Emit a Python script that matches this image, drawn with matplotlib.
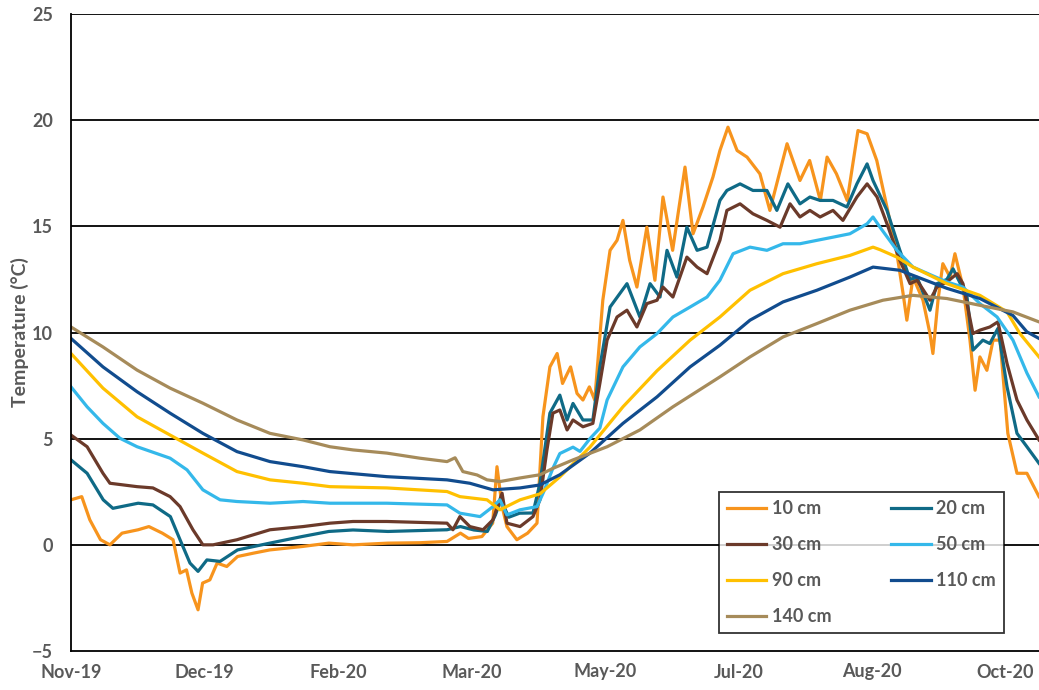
import numpy as np
import pandas as pd
import matplotlib
matplotlib.use("Agg")
import matplotlib.pyplot as plt

plt.rcParams['font.family'] = ['Lato', 'DejaVu Sans']

start = pd.Timestamp("2019-11-01")

# (day offset from 1 Nov 2019, temperature °C)
d10 = [0, 4, 7, 11, 14.5, 19, 25, 29, 34, 38, 40.6, 43, 45, 47.3, 49, 51.7, 54.4, 58, 62, 68, 74, 86, 96, 105, 118, 130, 140, 145, 148, 153, 157, 158.6, 160.5, 162.3, 166, 170, 173.5, 175.7, 178.3, 181, 183, 186, 188.4, 190.6, 193, 195, 198, 200.7, 203.3, 205.5, 208, 210.7, 214.4, 217.4, 220.4, 224, 228.6, 231.6, 235.3, 239, 241.6, 244.6, 248, 251.7, 256.5, 260.2, 266.6, 271.4, 275, 279, 281.5, 285, 289, 293, 296.4, 300, 303.8, 307.5, 309.8, 311.2, 313.5, 317.2, 319.8, 320.9, 322.8, 324.6, 327.3, 329.1, 332.1, 334.7, 336.6, 338.4, 341, 343.3, 345.9, 348.8, 352.2, 355.9, 360.4]
t10 = [2.12, 2.27, 1.18, 0.24, 0.0, 0.55, 0.71, 0.86, 0.55, 0.24, -1.33, -1.18, -2.27, -3.06, -1.8, -1.65, -0.86, -1.02, -0.55, -0.39, -0.24, -0.08, 0.08, 0.0, 0.08, 0.1, 0.16, 0.55, 0.3, 0.39, 1.02, 3.68, 1.8, 0.86, 0.24, 0.55, 1.02, 6.03, 8.38, 9.01, 7.6, 8.38, 7.13, 6.82, 7.44, 6.82, 11.52, 13.87, 14.34, 15.28, 13.4, 12.14, 14.96, 12.46, 16.38, 13.87, 17.79, 14.65, 15.91, 17.32, 18.57, 19.67, 18.57, 18.26, 17.47, 15.75, 18.89, 17.16, 18.1, 16.22, 18.26, 17.47, 16.22, 19.51, 19.36, 18.1, 15.9, 13.71, 11.83, 10.58, 12.61, 11.52, 9.95, 9.01, 11.52, 13.24, 12.61, 13.71, 12.14, 9.64, 7.28, 8.85, 8.22, 9.64, 9.64, 5.25, 3.37, 3.37, 2.27]

d20 = [0, 6, 12, 15.6, 25, 30.5, 37, 40.6, 44.3, 47.3, 50.6, 55.5, 62, 74, 86, 96, 105, 118, 140, 145, 150, 155, 158, 160, 163, 167, 172, 174.6, 178.3, 182, 184.7, 186.9, 190.6, 194.3, 196.9, 200.7, 207, 211.8, 215.6, 219.3, 221.9, 225.6, 229.3, 233.1, 236.8, 241.6, 244.2, 249.1, 253.9, 259.1, 262.8, 266.9, 271.4, 275.1, 278.9, 283.7, 288.9, 292.6, 296.4, 298.6, 303.8, 308.6, 312.4, 315, 319.8, 322.4, 326.1, 328.4, 333.6, 335.8, 339.5, 342.1, 345.1, 348.5, 352.2, 355.9, 360.4]
t20 = [4.0, 3.37, 2.12, 1.72, 1.96, 1.88, 1.33, 0.24, -0.86, -1.25, -0.71, -0.78, -0.24, 0.08, 0.39, 0.63, 0.7, 0.63, 0.71, 0.86, 0.7, 0.63, 1.4, 2.12, 1.3, 1.49, 1.5, 2.9, 6.2, 7.05, 5.88, 6.66, 5.88, 5.88, 8.38, 11.2, 12.3, 10.73, 12.3, 11.67, 13.87, 12.61, 14.96, 13.87, 14.02, 16.22, 16.69, 17.0, 16.69, 16.69, 15.75, 17.0, 16.06, 16.38, 16.22, 16.22, 15.91, 17.0, 17.94, 17.16, 15.75, 13.87, 12.5, 12.6, 11.05, 12.3, 12.5, 13.0, 11.67, 9.17, 9.64, 9.48, 10.19, 7.44, 5.25, 4.62, 3.84]

d30 = [0, 6, 11.9, 14.5, 24.6, 30.5, 36.9, 40.6, 45.4, 49.1, 52.9, 61.8, 74.1, 86.4, 96.4, 105, 117.6, 140, 142.2, 144.8, 148.5, 153.4, 157.1, 160.5, 162.3, 167.2, 172, 174.6, 177.2, 179.4, 182, 184.7, 186.9, 190.6, 194.3, 196.9, 199.6, 203.3, 207, 210.7, 214.4, 218.2, 220.4, 224.1, 229.3, 233.1, 236.8, 241.6, 244.2, 249.1, 253.9, 259.1, 264, 267.7, 271.4, 275.1, 278.9, 283.7, 287.4, 292.6, 296.4, 300.1, 303.8, 308.6, 312.4, 315, 319.8, 322.4, 326.1, 329.9, 332.1, 335.8, 338.4, 342.1, 345.1, 348.5, 352.2, 355.9, 360.4]
t30 = [5.17, 4.62, 3.37, 2.9, 2.74, 2.68, 2.27, 1.8, 0.71, 0.0, 0.0, 0.24, 0.71, 0.86, 1.02, 1.1, 1.1, 1.02, 0.71, 1.33, 0.86, 0.71, 1.18, 2.43, 1.02, 0.86, 1.33, 2.12, 4.47, 6.2, 6.35, 5.41, 5.88, 5.56, 5.72, 7.6, 9.64, 10.73, 11.05, 10.26, 11.36, 11.52, 12.14, 11.67, 13.55, 13.08, 12.77, 14.34, 15.75, 16.06, 15.59, 15.28, 14.96, 16.06, 15.44, 15.75, 15.44, 15.75, 15.28, 16.38, 17.0, 16.38, 15.12, 13.4, 12.3, 12.46, 11.52, 12.14, 12.38, 12.77, 12.3, 9.95, 10.11, 10.26, 10.5, 8.54, 6.82, 5.88, 4.94]

d50 = [0, 6, 11.9, 18.2, 24.6, 36.9, 43.2, 49.1, 55.5, 61.8, 74.1, 86.4, 96.4, 117.6, 140, 144.8, 152.3, 157.1, 159.7, 162.3, 167.2, 173.5, 176, 179.4, 182, 186.9, 189.5, 193.2, 196.9, 199.6, 205.5, 211.8, 218.2, 224.1, 230.5, 236.8, 241.6, 246.5, 252.8, 259.1, 265.1, 271.4, 277.7, 283.7, 290, 296.4, 298.6, 301.2, 307.5, 313.5, 326.1, 332.1, 338.4, 344.8, 350.7, 355.9, 360.4]
t50 = [7.44, 6.5, 5.72, 5.02, 4.62, 4.08, 3.53, 2.59, 2.12, 2.04, 1.96, 2.04, 1.96, 1.96, 1.88, 1.49, 1.33, 1.8, 2.12, 1.41, 1.65, 1.8, 2.5, 3.6, 4.3, 4.6, 4.4, 5.0, 5.5, 6.82, 8.38, 9.32, 9.95, 10.73, 11.2, 11.67, 12.46, 13.71, 14.02, 13.87, 14.18, 14.18, 14.34, 14.49, 14.65, 15.12, 15.44, 14.96, 13.87, 13.08, 12.38, 12.14, 11.36, 10.73, 9.64, 8.09, 6.97]

d90 = [0, 11.9, 24.6, 36.9, 49.1, 61.8, 74.1, 86.4, 96.4, 117.6, 140, 144.8, 154.9, 159.7, 167.2, 174.6, 182, 193.2, 205.5, 218.2, 230.5, 241.6, 252.8, 265.1, 277.7, 290, 298.6, 301.2, 307.5, 313.5, 326.1, 338.4, 348.5, 353.3, 360.4]
t90 = [9.01, 7.38, 6.03, 5.17, 4.32, 3.45, 3.06, 2.9, 2.74, 2.68, 2.51, 2.27, 2.12, 1.65, 2.12, 2.4, 3.2, 4.6, 6.5, 8.2, 9.64, 10.73, 11.99, 12.77, 13.24, 13.63, 14.02, 13.9, 13.55, 13.08, 12.3, 11.75, 10.97, 9.95, 8.85]

d110 = [0, 11.9, 24.6, 36.9, 49.1, 61.8, 74.1, 86.4, 96.4, 117.6, 140, 148.5, 157.1, 167.2, 174.6, 182, 193.2, 205.5, 218.2, 230.5, 241.6, 252.8, 265.1, 277.7, 290, 298.6, 308.6, 313.5, 326.1, 338.4, 350.7, 355.9, 360.4]
t110 = [9.72, 8.38, 7.21, 6.2, 5.25, 4.39, 3.92, 3.68, 3.45, 3.21, 3.06, 2.9, 2.59, 2.68, 2.82, 3.3, 4.32, 5.72, 6.97, 8.38, 9.4, 10.58, 11.44, 11.99, 12.61, 13.08, 12.93, 12.69, 12.08, 11.6, 10.8, 10.03, 9.72]

d140 = [0, 11.9, 24.6, 36.9, 49.1, 61.8, 74.1, 86.4, 96.4, 105, 117.6, 129.9, 140, 143, 145.9, 151.2, 154.9, 159.7, 167.2, 174.6, 179.4, 186.9, 199.6, 211.8, 224.1, 241.6, 252.8, 265.1, 277.7, 290, 302.3, 313.5, 326.1, 338.4, 350.7, 360.4]
t140 = [10.26, 9.32, 8.23, 7.38, 6.67, 5.88, 5.25, 4.94, 4.62, 4.47, 4.32, 4.08, 3.92, 4.1, 3.45, 3.29, 3.06, 2.98, 3.15, 3.3, 3.6, 4.0, 4.62, 5.41, 6.5, 7.91, 8.85, 9.79, 10.42, 11.05, 11.52, 11.75, 11.6, 11.28, 10.97, 10.5]

labels = ["10 cm", "20 cm", "30 cm", "50 cm", "90 cm", "110 cm", "140 cm"]
colors = ["#F7941D", "#0F6A86", "#6B3A2A", "#34B8EA", "#FFC000", "#114C8E", "#A68B5A"]
days = [d10, d20, d30, d50, d90, d110, d140]
temps = [t10, t20, t30, t50, t90, t110, t140]

tick_labels = ["Nov-19", "Dec-19", "Feb-20", "Mar-20", "May-20", "Jul-20", "Aug-20", "Oct-20"]
tick_step_days = 49.7   # major unit of the date axis in the day units above
x_end_days = 360.4

fig = plt.figure(figsize=(10.39, 6.90), dpi=100)
ax = fig.add_axes([71/1039, 1-651/690, 1-71/1039, (651-14)/690])

handles = []
for d, t, lab, c in zip(days, temps, labels, colors):
    x = start + pd.to_timedelta(np.array(d), unit="D")
    h, = ax.plot(x, t, color=c, lw=2.3, label=lab, solid_joinstyle='round')
    handles.append(h)

ax.set_ylim(-5, 25)
ax.set_yticks(range(-5, 26, 5))
ax.set_xlim(start, start + pd.Timedelta(days=x_end_days))
ticks = [start + pd.Timedelta(days=tick_step_days*i) for i in range(len(tick_labels))]
ax.set_xticks(ticks)
ax.set_xticklabels(tick_labels)
for yv in range(0, 26, 5):
    ax.axhline(yv, color="black", lw=1.3, zorder=0.5)

for s in ["top", "right"]:
    ax.spines[s].set_visible(False)
for s in ["left", "bottom"]:
    ax.spines[s].set_color("black")
    ax.spines[s].set_linewidth(1.3)

ax.tick_params(axis="both", length=0, labelsize=13, labelcolor="#595959")
ax.tick_params(axis="x", pad=9)
ax.tick_params(axis="y", pad=13)
for lbl in ax.get_xticklabels() + ax.get_yticklabels():
    lbl.set_fontweight("bold")
ax.set_ylabel("Temperature (°C)", fontsize=14, color="#595959", fontweight="bold", labelpad=2)

order = [0, 2, 4, 6, 1, 3, 5]
leg = ax.legend([handles[i] for i in order], [labels[i] for i in order], ncol=2,
                loc="lower left", bbox_to_anchor=(0.669, 0.028, 0.295, 0.225), mode="expand",
                borderaxespad=0.0,
                frameon=True, fancybox=False, edgecolor="black", fontsize=13,
                handlelength=2.2, handletextpad=0.3, labelspacing=1.05, borderpad=0.45,
                columnspacing=1.0)
leg.get_frame().set_linewidth(1.3)
for txt in leg.get_texts():
    txt.set_color("#595959")
    txt.set_fontweight("bold")

fig.savefig("out.png", dpi=100)
